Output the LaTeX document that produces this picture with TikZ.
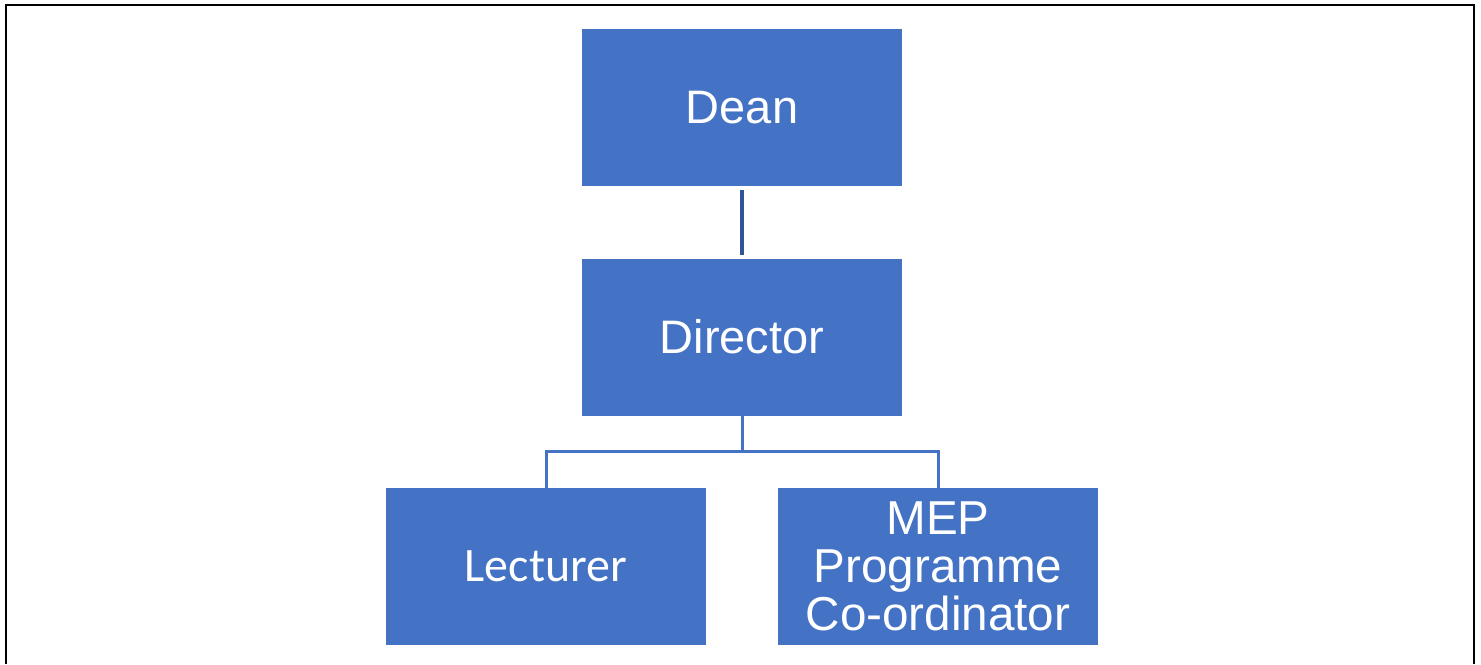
\documentclass[tikz,border=0pt]{standalone}
\usepackage{fontspec}
\setmainfont{Liberation Sans}
\newfontfamily\calibrifont{Carlito}
\definecolor{boxblue}{HTML}{4472C4}
\definecolor{linkdark}{HTML}{2F5597}
\definecolor{linklight}{HTML}{4472C4}
\begin{document}
\begin{tikzpicture}[x=0.5pt,y=-0.5pt,
  orgbox/.style={fill=boxblue, draw=none, minimum width=160pt, minimum height=78.5pt,
    inner sep=0pt, text=white, align=center, font=\fontsize{23.5}{24}\selectfont},
  toplink/.style={draw=linkdark, line width=2pt},
  sublink/.style={draw=linklight, line width=1.5pt},
  frameline/.style={draw=black, line width=1pt}]
\useasboundingbox (0,0) rectangle (1481,664);
\fill[white] (0,0) rectangle (1481,664);
\coordinate (fbl) at (6,664);
\coordinate (ftl) at (6,5);
\coordinate (ftr) at (1474,5);
\coordinate (fbr) at (1474,664);
\draw[frameline] (fbl) -- (ftl) -- (ftr) -- (fbr);
\node[orgbox] (dean) at (742,107.5) {Dean};
\node[orgbox] (director) at (742,337) {Director};
\node[orgbox, font=\calibrifont\fontsize{24}{24}\selectfont] (lecturer) at (546,566.5) {Lecturer};
\node[orgbox, font=\fontsize{23.8}{24}\selectfont] (mep) at (938,566.5) {MEP\\Programme\\Co-ordinator};
\draw[toplink] ([yshift=-2pt]dean.south) -- ([yshift=1.5pt]director.north);
\draw[sublink] (director.south) -- ++(0,36) -| (lecturer.north);
\draw[sublink] (director.south) ++(0,36) -| (mep.north);
\end{tikzpicture}
\end{document}
